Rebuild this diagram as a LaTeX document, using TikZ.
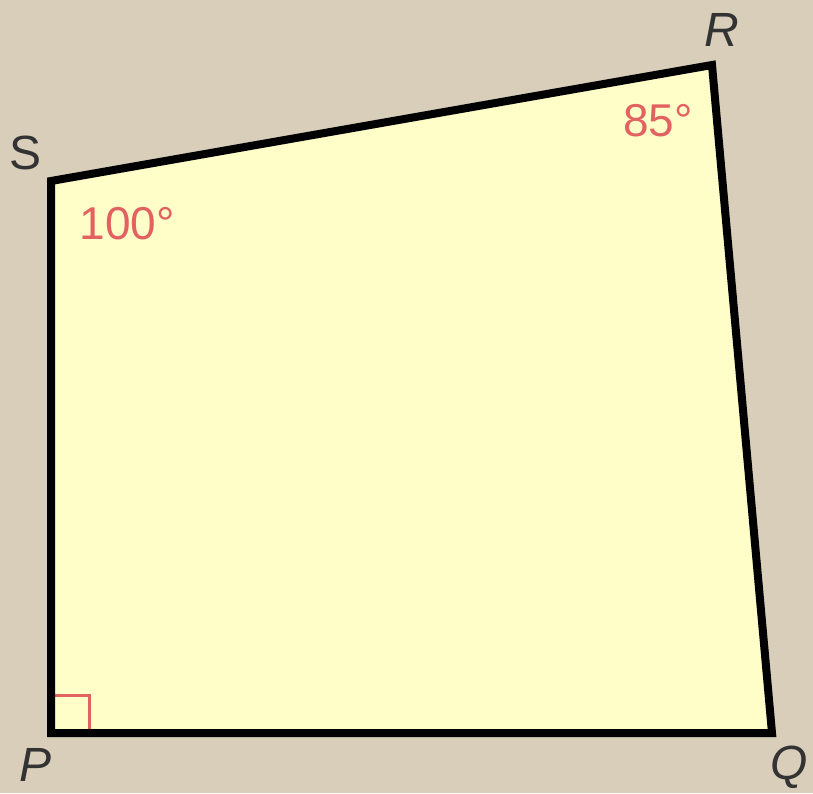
\documentclass[tikz,border=0pt]{standalone}
\usepackage{fontspec}
\setmainfont{Liberation Sans}
\usepackage{tikz}

\definecolor{paper}{RGB}{216,206,186}
\definecolor{quadfill}{RGB}{255,253,200}
\definecolor{anglered}{RGB}{226,98,98}

\begin{document}
\begin{tikzpicture}[x=1pt, y=-1pt,
  vertex/.style={inner sep=0pt, minimum size=0pt},
  vname/.style={font=\fontsize{48}{48}\selectfont\itshape, text=black!80},
  angletext/.style={font=\fontsize{46}{46}\selectfont, text=anglered}]

 %%%  background
 \fill [paper] (0,0) rectangle (813,793);
 \useasboundingbox (0,0) rectangle (813,793);

 %%%  nodes

 % corners of the quadrilateral
 \node [vertex] (p) at (51,733) {};
 \node [vertex] (q) at (772,733) {};
 \node [vertex] (r) at (712,65) {};
 \node [vertex] (s) at (51,181) {};

 \fill [quadfill] (p.center) -- (q.center) -- (r.center) -- (s.center) -- cycle;

 % corner names
 \node [vname, font=\fontsize{48}{48}\selectfont] (sname) at (26,153) {S};
 \node [vname] (rname) at (722,30) {R};
 \node [vname] (pname) at (36,765) {P};
 \node [vname] (qname) at (789,767) {Q};

 % angle sizes
 \node [angletext] (sangle) at (127,224) {100°};
 \node [angletext] (rangle) at (658,121) {85°};

 %%%  edges
 \draw [anglered, line width=3pt] (51,695) -- (89,695) -- (89,733);
 \draw [line width=8pt, line join=miter] (p.center) -- (q.center) -- (r.center) -- (s.center) -- cycle;

\end{tikzpicture}
\end{document}
